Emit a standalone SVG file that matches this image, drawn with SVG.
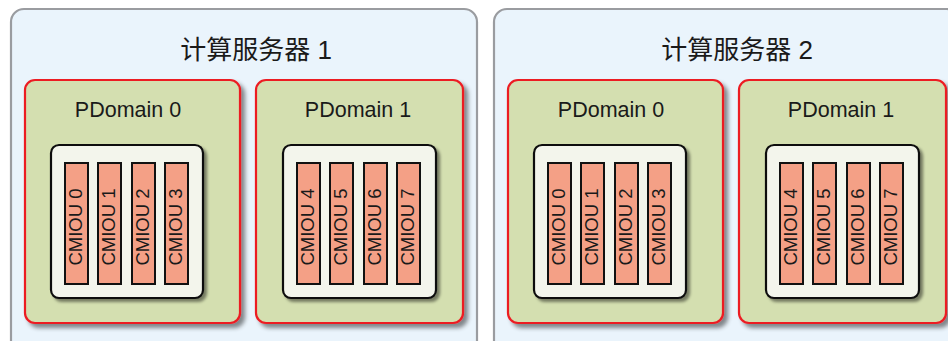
<svg xmlns="http://www.w3.org/2000/svg" width="948" height="341" viewBox="0 0 948 341">
<defs>
<filter id="sh" x="-10%" y="-10%" width="130%" height="130%">
<feDropShadow dx="4" dy="4" stdDeviation="2.2" flood-color="#000" flood-opacity="0.45"/>
</filter>
<filter id="sh2" x="-10%" y="-10%" width="130%" height="130%">
<feDropShadow dx="3" dy="3" stdDeviation="1.8" flood-color="#000" flood-opacity="0.45"/>
</filter>
</defs>
<style>
.srv{fill:#eaf4fc;stroke:#9a9ca0;stroke-width:2.2}
.pd{fill:#d4dfb0;stroke:#ec1c24;stroke-width:2.2;filter:url(#sh)}
.box{fill:#f3f5ec;stroke:#111;stroke-width:2.2;filter:url(#sh2)}
.bar{fill:#f4a086;stroke:#111;stroke-width:2}
.t1{font-family:"Liberation Sans","Noto Sans CJK SC",sans-serif;font-size:26px;fill:#1a1a1a;text-anchor:middle}
.t2{font-family:"Liberation Sans","Noto Sans CJK SC",sans-serif;font-size:21.5px;fill:#1a1a1a;text-anchor:middle}
.t3{font-family:"Liberation Sans",sans-serif;font-size:18.5px;fill:#1a1a1a;text-anchor:middle}
</style>
<rect width="948" height="341" fill="#ffffff"/>
<g id="server1">
<rect class="srv" x="11" y="9" width="466" height="345" rx="13"/>
<text class="t1" x="256" y="59">计算服务器 1</text>
</g>
<g id="server2">
<rect class="srv" x="494" y="9" width="466" height="345" rx="13"/>
<text class="t1" x="737" y="59">计算服务器 2</text>
</g>
<g id="s1-pdomain0">
<rect class="pd" x="25" y="80" width="215" height="243" rx="10"/>
<text class="t2" x="128" y="117">PDomain 0</text>
<rect class="box" x="51" y="145" width="152" height="153" rx="8"/>
<rect class="bar" x="65" y="163" width="23" height="121"/>
<rect class="bar" x="98" y="163" width="23" height="121"/>
<rect class="bar" x="132" y="163" width="23" height="121"/>
<rect class="bar" x="165" y="163" width="23" height="121"/>
<text class="t3" transform="translate(82,227) rotate(-90)">CMIOU 0</text>
<text class="t3" transform="translate(115,227) rotate(-90)">CMIOU 1</text>
<text class="t3" transform="translate(149,227) rotate(-90)">CMIOU 2</text>
<text class="t3" transform="translate(182,227) rotate(-90)">CMIOU 3</text>
</g>
<g id="s1-pdomain1">
<rect class="pd" x="256" y="80" width="207" height="243" rx="10"/>
<text class="t2" x="358" y="117">PDomain 1</text>
<rect class="box" x="283" y="145" width="153" height="153" rx="8"/>
<rect class="bar" x="297" y="163" width="23" height="121"/>
<rect class="bar" x="330" y="163" width="23" height="121"/>
<rect class="bar" x="364" y="163" width="23" height="121"/>
<rect class="bar" x="397" y="163" width="23" height="121"/>
<text class="t3" transform="translate(314,227) rotate(-90)">CMIOU 4</text>
<text class="t3" transform="translate(347,227) rotate(-90)">CMIOU 5</text>
<text class="t3" transform="translate(381,227) rotate(-90)">CMIOU 6</text>
<text class="t3" transform="translate(414,227) rotate(-90)">CMIOU 7</text>
</g>
<g id="s2-pdomain0">
<rect class="pd" x="508" y="80" width="215" height="243" rx="10"/>
<text class="t2" x="611" y="117">PDomain 0</text>
<rect class="box" x="534" y="145" width="152" height="153" rx="8"/>
<rect class="bar" x="548" y="163" width="23" height="121"/>
<rect class="bar" x="581" y="163" width="23" height="121"/>
<rect class="bar" x="615" y="163" width="23" height="121"/>
<rect class="bar" x="648" y="163" width="23" height="121"/>
<text class="t3" transform="translate(565,227) rotate(-90)">CMIOU 0</text>
<text class="t3" transform="translate(598,227) rotate(-90)">CMIOU 1</text>
<text class="t3" transform="translate(632,227) rotate(-90)">CMIOU 2</text>
<text class="t3" transform="translate(665,227) rotate(-90)">CMIOU 3</text>
</g>
<g id="s2-pdomain1">
<rect class="pd" x="739" y="80" width="207" height="243" rx="10"/>
<text class="t2" x="841" y="117">PDomain 1</text>
<rect class="box" x="766" y="145" width="153" height="153" rx="8"/>
<rect class="bar" x="780" y="163" width="23" height="121"/>
<rect class="bar" x="813" y="163" width="23" height="121"/>
<rect class="bar" x="847" y="163" width="23" height="121"/>
<rect class="bar" x="880" y="163" width="23" height="121"/>
<text class="t3" transform="translate(797,227) rotate(-90)">CMIOU 4</text>
<text class="t3" transform="translate(830,227) rotate(-90)">CMIOU 5</text>
<text class="t3" transform="translate(864,227) rotate(-90)">CMIOU 6</text>
<text class="t3" transform="translate(897,227) rotate(-90)">CMIOU 7</text>
</g>
<g id="connectors"></g>
</svg>
